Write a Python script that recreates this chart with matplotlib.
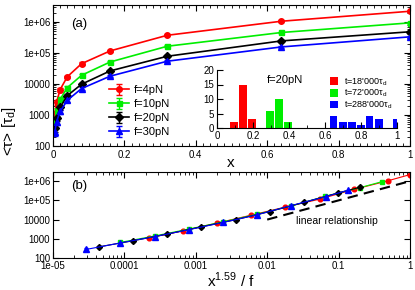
import numpy as np
import matplotlib
matplotlib.use("Agg")
import matplotlib.pyplot as plt
from matplotlib.ticker import FixedLocator, FixedFormatter, MultipleLocator, LogLocator, NullFormatter

plt.rcParams['font.family'] = ['Liberation Sans', 'DejaVu Sans']

# mean translocation time vs x for each force
x = [0.005, 0.01, 0.02, 0.04, 0.08, 0.16, 0.32, 0.64, 1.0]
forces = [4, 10, 20, 30]
tau_f4 = [1100, 2600, 6600, 17000, 45000, 116000, 370000, 1.05e6, 2.2e6]
tau_f10 = [650, 1400, 3200, 7600, 19000, 51000, 164000, 455000, 930000]
tau_f20 = [380, 790, 1760, 4200, 9800, 26300, 78000, 244000, 480000]
tau_f30 = [280, 610, 1300, 2970, 7100, 17800, 54000, 156000, 330000]
rel_err = [0.25, 0.2, 0.15, 0.1, 0.1, 0.08, 0.08, 0.07, 0.05]
exponent = 1.59

# histogram of x at three times, f=20pN
hx_18k = [0.095, 0.145, 0.195]
hn_18k = [2, 15, 3]
hx_72k = [0.295, 0.345, 0.395]
hn_72k = [6, 10, 2]
hx_288k = [0.647, 0.699, 0.749, 0.8, 0.847, 0.899, 0.999]
hn_288k = [4, 2, 2, 1, 4, 3, 3]

# linear guide in panel (b)
lin_x = [0.01, 1.0]
lin_y = [1e4, 1e6]

series = [tau_f4, tau_f10, tau_f20, tau_f30]
colors = ['#ff0000', '#00ee00', '#000000', '#0000ff']
markers = ['o', 's', 'D', '^']
msizes = [4, 3.6, 3.6, 4.5]
labels = ['f=4pN', 'f=10pN', 'f=20pN', 'f=30pN']

W, H = 415, 290
fig = plt.figure(figsize=(W / 100, H / 100), dpi=100)

def rect(l, r, t, b):
    return [l / W, (H - b) / H, (r - l) / W, (b - t) / H]

ax = fig.add_axes(rect(53, 410, 5, 146))
axb = fig.add_axes(rect(53, 410, 172, 258))
axi = fig.add_axes(rect(217, 397, 70, 128))

xa = np.array(x)
err = np.array(rel_err)
for s, c, m, ms, lab in zip(series, colors, markers, msizes, labels):
    ya = np.array(s)
    ax.errorbar(xa, ya, yerr=ya * err, color=c, marker=m, ms=ms, lw=1.2,
                capsize=2.5, elinewidth=1, label=lab)

for s, c, m, ms, f in zip(series, colors, markers, msizes, forces):
    ya = np.array(s)
    xb = xa ** exponent / (f / 4)
    axb.errorbar(xb, ya, yerr=ya * err * 0.5, color=c, marker=m, ms=ms * 0.85, lw=0.8,
                 capsize=1.5, elinewidth=0.8)
axb.plot(lin_x, lin_y, color='black', ls=(0, (5, 3)), lw=1.5)
axb.text(0.025, 8700, 'linear relationship', fontsize=7.5, va='center')

ylabs = ['100', '1000', '10000', '1e+05', '1e+06']
ypos = [1e2, 1e3, 1e4, 1e5, 1e6]
for a, top in [(ax, 3.5e6), (axb, 3e6)]:
    a.set_yscale('log')
    a.set_ylim(100, top)
    a.yaxis.set_major_locator(FixedLocator(ypos))
    a.yaxis.set_major_formatter(FixedFormatter(ylabs))
    a.yaxis.set_minor_locator(LogLocator(base=10, subs=np.arange(2, 10)))
    a.yaxis.set_minor_formatter(NullFormatter())
    a.tick_params(which='both', direction='in', top=True, right=True, labelsize=7, pad=2)
    a.tick_params(which='major', length=4)
    a.tick_params(which='minor', length=2)

ax.set_xlim(0, 1)
ax.xaxis.set_minor_locator(MultipleLocator(0.02))
ax.set_xticks([0, 0.2, 0.4, 0.6, 0.8, 1.0])
ax.set_xticklabels(['0', '0.2', '0.4', '0.6', '0.8', '1'])
ax.tick_params(axis='x', pad=3)
ax.text(0.05, 0.865, '(a)', transform=ax.transAxes, fontsize=9.5, va='center')
ax.legend(loc='upper left', bbox_to_anchor=(0.14, 0.47), frameon=False, fontsize=8,
          handlelength=1.8, labelspacing=0.35, handletextpad=0.5, borderpad=0)

axb.set_xscale('log')
axb.set_xlim(1e-5, 1)
axb.xaxis.set_major_locator(FixedLocator([1e-5, 1e-4, 1e-3, 1e-2, 1e-1, 1]))
axb.xaxis.set_major_formatter(FixedFormatter(['1e-05', '0.0001', '0.001', '0.01', '0.1', '1']))
axb.xaxis.set_minor_locator(LogLocator(base=10, subs=np.arange(2, 10)))
axb.xaxis.set_minor_formatter(NullFormatter())
axb.tick_params(axis='x', pad=2)
axb.text(0.05, 0.837, '(b)', transform=axb.transAxes, fontsize=9.5, va='center')

fig.text(231 / W, 1 - 163 / H, 'x', fontsize=11, ha='center', va='center')
fig.text(231 / W, 1 - 280 / H, r'x$^{\mathregular{1.59}}$ / f', fontsize=11, ha='center', va='center')
fig.text(9 / W, 1 - 131 / H, r'<τ> [τ$_{\mathregular{d}}$]', fontsize=11, rotation=90,
         ha='center', va='center')

# inset histogram
axi.set_facecolor('white')
axi.bar(hx_18k, hn_18k, width=0.042, color='#ff0000', label="t=18'000τ$_{\\mathregular{d}}$")
axi.bar(hx_72k, hn_72k, width=0.042, color='#00ee00', label="t=72'000τ$_{\\mathregular{d}}$")
axi.bar(hx_288k, hn_288k, width=0.042, color='#0000ff', label="t=288'000τ$_{\\mathregular{d}}$")
axi.set_xlim(0, 1)
axi.set_ylim(0, 20)
axi.spines['top'].set_visible(False)
axi.spines['right'].set_visible(False)
axi.xaxis.set_minor_locator(MultipleLocator(0.1))
axi.set_xticks([0, 0.2, 0.4, 0.6, 0.8, 1.0])
axi.set_xticklabels(['0', '0.2', '0.4', '0.6', '0.8', '1'])
axi.yaxis.set_major_locator(MultipleLocator(5))
axi.tick_params(which='both', direction='in', labelsize=7, pad=2)
axi.tick_params(which='major', length=4)
axi.tick_params(which='minor', length=2)
axi.text(0.38, 0.82, 'f=20pN', transform=axi.transAxes, fontsize=8, ha='center', va='center')
axi.legend(loc='upper right', bbox_to_anchor=(1.0, 0.97), frameon=False, fontsize=6.5,
           handlelength=0.9, handleheight=0.9, labelspacing=0.02, handletextpad=0.7, borderpad=0)

fig.savefig('out.png', dpi=100)
